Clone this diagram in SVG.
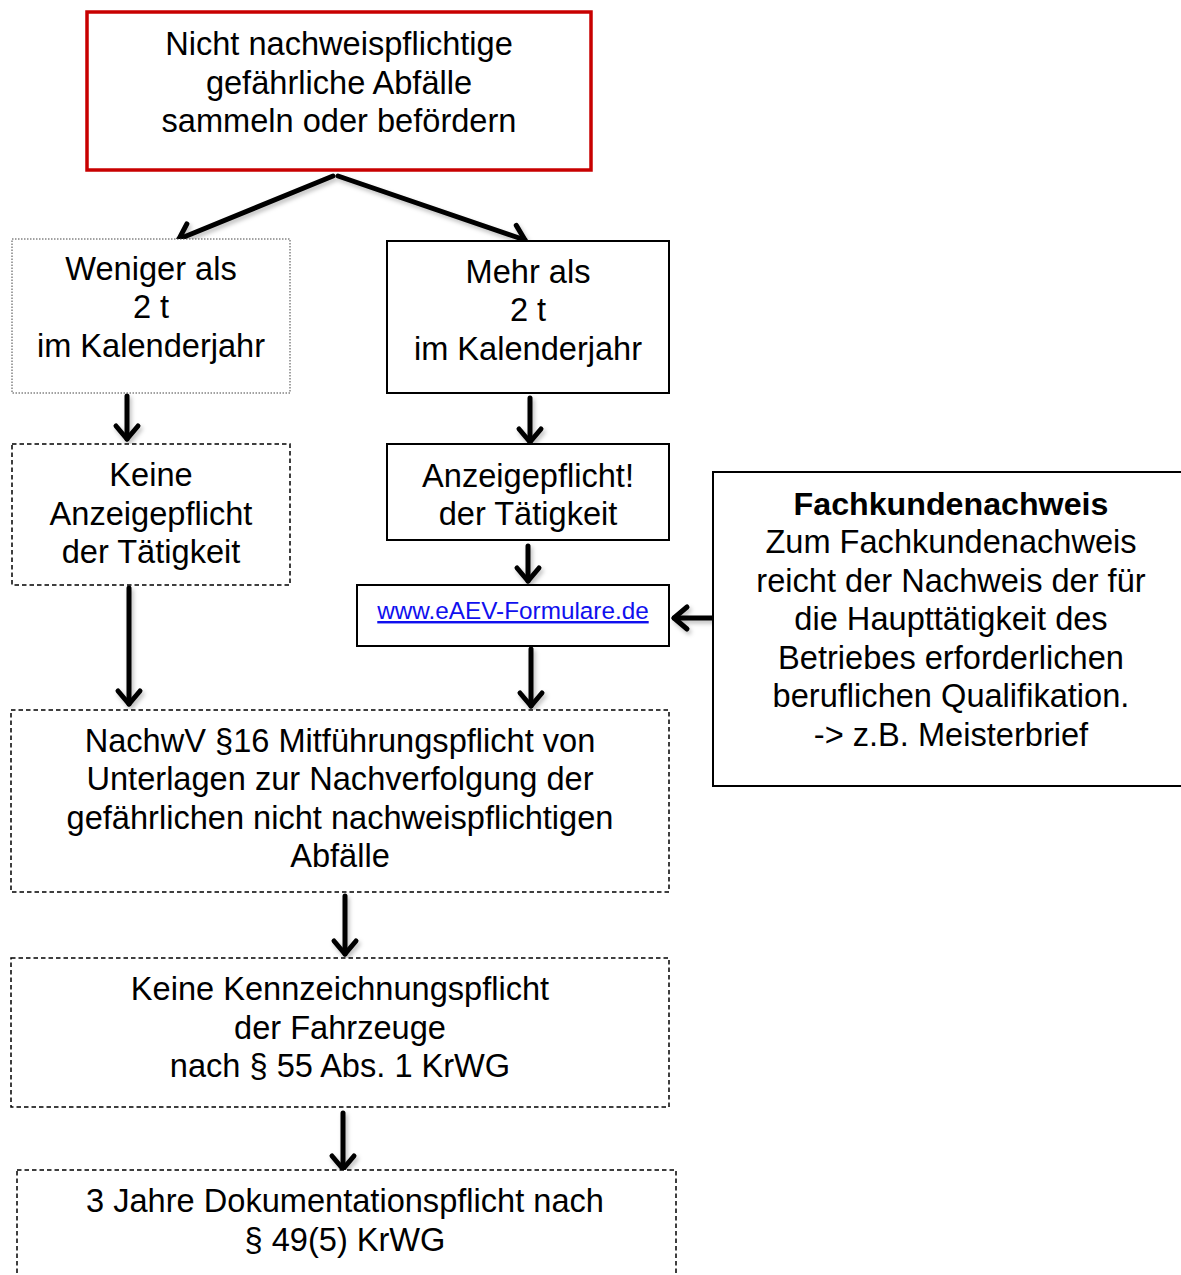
<svg xmlns="http://www.w3.org/2000/svg" width="1181" height="1275" viewBox="0 0 1181 1275">
<style>
  text { font-family: "Liberation Sans", Arial, Helvetica, sans-serif; font-size: 32.6px; fill: #000; text-anchor: middle; }
  .box { fill: #fff; stroke: #000; }
  .solid { stroke-width: 2; }
  .dash { stroke-width: 1.5; stroke-dasharray: 4.5 3; }
  .dot { stroke-width: 1; stroke-dasharray: 1.5 1.5; stroke: #444; }
  .red { stroke: #c80000; stroke-width: 3.5; }
  .conn { stroke: #000; stroke-width: 5; fill: none; stroke-linecap: round; marker-end: url(#arr); }
  .link { fill: #1010ee; font-size: 24.3px; text-decoration: underline; }
  .bold { font-weight: bold; font-size: 32.2px; }
</style>
<defs>
  <marker id="arr" markerUnits="userSpaceOnUse" viewBox="-18 -15 22 30" markerWidth="22" markerHeight="30" refX="0" refY="0" orient="auto">
    <path d="M -13 -11 L 0 0 L -13 11" fill="none" stroke="#000" stroke-width="5" stroke-linecap="round" stroke-linejoin="round"/>
  </marker>
  <filter id="sh" x="-20%" y="-20%" width="140%" height="140%">
    <feDropShadow dx="2" dy="3" stdDeviation="2" flood-color="#000" flood-opacity="0.25"/>
  </filter>
</defs>

<g id="connectors" filter="url(#sh)">
  <line class="conn" x1="333" y1="176" x2="179" y2="239"/>
  <line class="conn" x1="338" y1="176" x2="525" y2="240"/>
  <line class="conn" x1="127" y1="396" x2="127" y2="439"/>
  <line class="conn" x1="530" y1="398" x2="530" y2="442"/>
  <line class="conn" x1="528" y1="546" x2="528" y2="581"/>
  <line class="conn" x1="713" y1="618" x2="674" y2="618"/>
  <line class="conn" x1="531" y1="649" x2="531" y2="706"/>
  <line class="conn" x1="129" y1="588" x2="129" y2="704"/>
  <line class="conn" x1="345" y1="896" x2="345" y2="954"/>
  <line class="conn" x1="343" y1="1113" x2="343" y2="1169"/>
</g>

<g id="node-start">
  <rect class="box red" x="87" y="12" width="504" height="158"/>
  <text x="339" y="55">Nicht nachweispflichtige</text>
  <text x="339" y="94">gefährliche Abfälle</text>
  <text x="339" y="132">sammeln oder befördern</text>
</g>

<g id="node-weniger">
  <rect class="box dot" x="12" y="239" width="278" height="154"/>
  <text x="151" y="280">Weniger als</text>
  <text x="151" y="318">2 t</text>
  <text x="151" y="357">im Kalenderjahr</text>
</g>

<g id="node-mehr">
  <rect class="box solid" x="387" y="241" width="282" height="152"/>
  <text x="528" y="283">Mehr als</text>
  <text x="528" y="321">2 t</text>
  <text x="528" y="360">im Kalenderjahr</text>
</g>

<g id="node-keine-anzeige">
  <rect class="box dash" x="12" y="444" width="278" height="141"/>
  <text x="151" y="486">Keine</text>
  <text x="151" y="525">Anzeigepflicht</text>
  <text x="151" y="563">der Tätigkeit</text>
</g>

<g id="node-anzeige">
  <rect class="box solid" x="387" y="444" width="282" height="96"/>
  <text x="528" y="487">Anzeigepflicht!</text>
  <text x="528" y="525">der Tätigkeit</text>
</g>

<g id="node-www">
  <rect class="box solid" x="357" y="585" width="312" height="61"/>
  <text class="link" x="513" y="619">www.eAEV-Formulare.de</text>
</g>

<g id="node-fachkunde">
  <rect class="box solid" x="713" y="472" width="480" height="314"/>
  <text class="bold" x="951" y="515">Fachkundenachweis</text>
  <text x="951" y="553">Zum Fachkundenachweis</text>
  <text x="951" y="592">reicht der Nachweis der für</text>
  <text x="951" y="630">die Haupttätigkeit des</text>
  <text x="951" y="669">Betriebes erforderlichen</text>
  <text x="951" y="707">beruflichen Qualifikation.</text>
  <text x="951" y="746">-&gt; z.B. Meisterbrief</text>
</g>

<g id="node-nachwv">
  <rect class="box dash" x="11" y="710" width="658" height="182"/>
  <text x="340" y="752">NachwV §16 Mitführungspflicht von</text>
  <text x="340" y="790">Unterlagen zur Nachverfolgung der</text>
  <text x="340" y="829">gefährlichen nicht nachweispflichtigen</text>
  <text x="340" y="867">Abfälle</text>
</g>

<g id="node-kennzeichnung">
  <rect class="box dash" x="11" y="958" width="658" height="149"/>
  <text x="340" y="1000">Keine Kennzeichnungspflicht</text>
  <text x="340" y="1039">der Fahrzeuge</text>
  <text x="340" y="1077">nach § 55 Abs. 1 KrWG</text>
</g>

<g id="node-dokumentation">
  <rect class="box dash" x="17" y="1170" width="659" height="120"/>
  <text x="345" y="1212">3 Jahre Dokumentationspflicht nach</text>
  <text x="345" y="1251">§ 49(5) KrWG</text>
</g>
</svg>
